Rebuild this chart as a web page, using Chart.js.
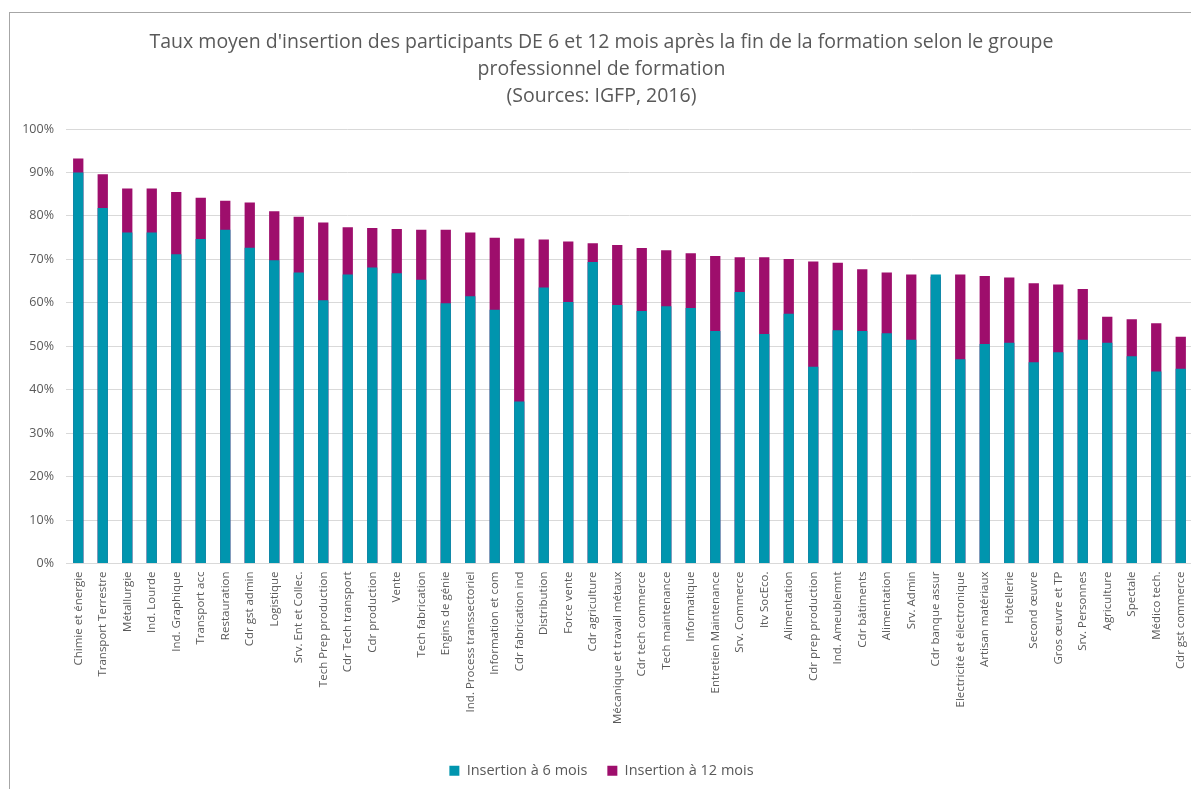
<!DOCTYPE html>
<html lang="fr">
<head>
  <meta charset="UTF-8">
  <title>Taux moyen d'insertion</title>
  <script src="https://cdn.jsdelivr.net/npm/chart.js"></script>
  <style>
    body { margin: 0; overflow: hidden; background: #fff; }
    #frame { position: absolute; left: 9px; top: 12px; width: 1200px; height: 800px; border: 1px solid #a6a6a6; }
  </style>
</head>
<body>
  <div id="frame">
    <canvas id="myChart" width="1200" height="800"></canvas>
  </div>

  <script>
    // Groupes professionnels (ordre du graphique)
    const categories = [
      "Chimie et énergie", "Transport Terrestre", "Métallurgie", "Ind. Lourde", "Ind. Graphique",
      "Transport acc", "Restauration", "Cdr gst admin", "Logistique", "Srv. Ent et Collec.",
      "Tech Prep production", "Cdr Tech transport", "Cdr production", "Vente", "Tech fabrication",
      "Engins de génie", "Ind. Process transsectoriel", "Information et com", "Cdr fabrication ind", "Distribution",
      "Force vente", "Cdr agriculture", "Mécanique et travail métaux", "Cdr tech commerce", "Tech maintenance",
      "Informatique", "Entretien Maintenance", "Srv. Commerce", "Itv SocEco.", "Alimentation",
      "Cdr prep production", "Ind. Ameublemnt", "Cdr bâtiments", "Alimentation", "Srv. Admin",
      "Cdr banque assur", "Electricité et électronique", "Artisan matériaux", "Hôtellerie", "Second œuvre",
      "Gros œuvre et TP", "Srv. Personnes", "Agriculture", "Spectale", "Médico tech.",
      "Cdr gst commerce"
    ];

    // Taux d'insertion (%) à 6 mois
    const insertion6 = [
      90.0, 81.8, 76.2, 76.2, 71.2, 74.7, 76.8, 72.7, 69.8, 67.0,
      60.6, 66.5, 68.1, 66.8, 65.3, 59.9, 61.5, 58.4, 37.3, 63.5,
      60.2, 69.4, 59.5, 58.1, 59.2, 58.8, 53.5, 62.5, 52.8, 57.5,
      45.3, 53.7, 53.5, 53.0, 51.5, 66.5, 47.0, 50.5, 50.8, 46.3,
      48.6, 51.5, 50.8, 47.7, 44.2, 44.8
    ];

    // Taux d'insertion (%) à 12 mois
    const insertion12 = [
      93.2, 89.6, 86.3, 86.3, 85.5, 84.2, 83.5, 83.1, 81.1, 79.8,
      78.5, 77.4, 77.2, 77.0, 76.8, 76.8, 76.2, 75.0, 74.8, 74.6,
      74.1, 73.7, 73.3, 72.6, 72.1, 71.4, 70.8, 70.5, 70.5, 70.1,
      69.5, 69.2, 67.7, 67.0, 66.5, 66.0, 66.5, 66.2, 65.8, 64.5,
      64.2, 63.2, 56.8, 56.2, 55.3, 52.2
    ];

    const yTicks = [0, 10, 20, 30, 40, 50, 60, 70, 80, 90, 100];

    const textColor = '#595959';
    const fontFamily = '"Open Sans", "Liberation Sans", sans-serif';

    const ctx = document.getElementById('myChart').getContext('2d');
    const myChart = new Chart(ctx, {
      type: 'bar',
      data: {
        labels: categories,
        datasets: [
          {
            label: 'Insertion à 6 mois',
            data: insertion6,
            backgroundColor: '#0095ae',
            categoryPercentage: 1,
            barPercentage: 0.42
          },
          {
            label: 'Insertion à 12 mois',
            data: insertion12,
            backgroundColor: '#9e0e6c',
            categoryPercentage: 1,
            barPercentage: 0.42
          }
        ]
      },
      options: {
        responsive: false,
        animation: false,
        layout: { padding: { top: 10, right: 17, bottom: 25, left: 0 } },
        plugins: {
          title: {
            display: true,
            text: [
              "Taux moyen d'insertion des participants DE 6 et 12 mois après la fin de la formation selon le groupe",
              "professionnel de formation",
              "(Sources: IGFP, 2016)"
            ],
            color: textColor,
            font: { family: fontFamily, size: 19.5, weight: 'normal', lineHeight: 1.385 },
            padding: { top: 6, bottom: 19 }
          },
          legend: {
            position: 'bottom',
            labels: {
              color: textColor,
              font: { family: fontFamily, size: 14.5 },
              boxWidth: 10,
              boxHeight: 10,
              padding: 20
            }
          },
          tooltip: { enabled: false }
        },
        scales: {
          x: {
            // stacked on x only: the two series overlap on the same bar
            stacked: true,
            grid: { display: false, drawTicks: false },
            border: { display: false },
            ticks: {
              color: textColor,
              font: { family: fontFamily, size: 11.5 },
              minRotation: 90,
              maxRotation: 90,
              autoSkip: false,
              padding: 8
            },
            afterFit: (scale) => { scale.height = 180; }
          },
          y: {
            stacked: false,
            min: 0,
            max: 100,
            afterBuildTicks: (scale) => { scale.ticks = yTicks.map(v => ({ value: v })); },
            grid: { color: '#d9d9d9', drawTicks: false },
            border: { display: false },
            ticks: {
              color: textColor,
              font: { family: fontFamily, size: 12.5 },
              padding: 12,
              callback: (v) => v + '%'
            },
            afterFit: (scale) => { scale.width = 56; }
          }
        }
      }
    });
  </script>
</body>
</html>
